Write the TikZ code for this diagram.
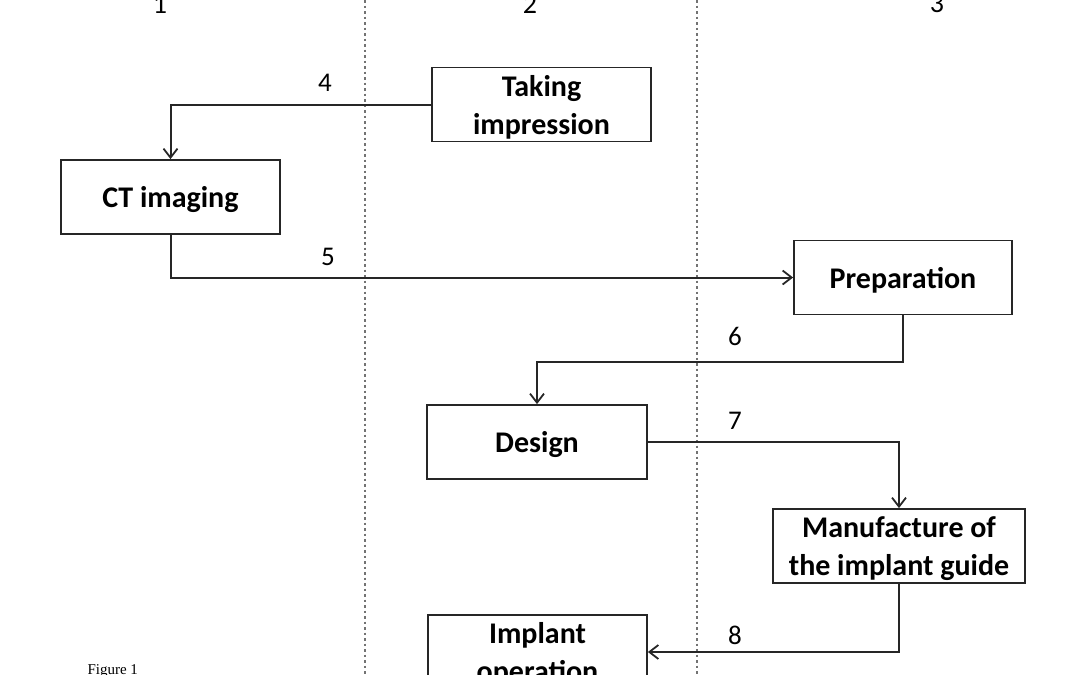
\documentclass[tikz,border=0pt]{standalone}
\usepackage{fontspec}
\setmainfont{Carlito}
\newfontfamily\serifcap{Liberation Serif}
\usetikzlibrary{arrows.meta}
\begin{document}
\begin{tikzpicture}[x=1pt,y=-1pt,
  stepbox/.style={draw=black!85,line width=1.8pt,minimum width=219pt,minimum height=74pt,inner sep=1pt,text depth=0pt,align=center,font=\fontsize{30}{38}\selectfont\bfseries},
  conn/.style={draw=black!85,line width=2pt,-{Straight Barb[length=9pt,width=14pt,line width=1.8pt]}},
  num/.style={font=\fontsize{27}{30}\selectfont},
  col/.style={font=\fontsize{28}{30}\selectfont},
  divider/.style={draw=black!55,line width=1.2pt,dash pattern=on 2.5pt off 3pt}]
\useasboundingbox (0,0) rectangle (1080,675);
% column dividers
\coordinate (d1t) at (365,0); \coordinate (d1b) at (365,675);
\coordinate (d2t) at (697,0); \coordinate (d2b) at (697,675);
\draw[divider] (d1t) -- (d1b);
\draw[divider] (d2t) -- (d2b);
% column headings
\node[col] (c1) at (160,4) {1};
\node[col] (c2) at (530,4) {2};
\node[col] (c3) at (937,4) {3};
% boxes
\node[stepbox] (take) at (541.5,104.5) {Taking\\impression};
\node[stepbox,minimum width=218pt] (prep) at (903,277.5) {Preparation};
\node[stepbox] (ct) at (170.5,197) {CT imaging};
\node[stepbox,minimum width=220pt] (design) at (537,442) {Design};
\node[stepbox,minimum width=252pt] (manu) at (899,546) {Manufacture of\\the implant guide};
\node[stepbox] (impl) at (537.5,652) {Implant\\operation};
% connectors
\draw[conn] (take.west) -| (ct.north);
\draw[conn] (ct.south) |- (prep.west);
\coordinate (k6) at (903,362);
\draw[conn] (prep.south) -- (k6) -| (design.north);
\draw[conn] (design.east) -| (manu.north);
\draw[conn] (manu.south) |- (impl.east);
% labels
\node[num] (n4) at (325,83) {4};
\node[num] (n5) at (328,257) {5};
\node[num] (n6) at (735,336) {6};
\node[num] (n7) at (735,421) {7};
\node[num] (n8) at (735,635) {8};
\node[font=\serifcap\fontsize{15}{16}\selectfont,anchor=west] (fig) at (84,671) {Figure 1};
\end{tikzpicture}
\end{document}
